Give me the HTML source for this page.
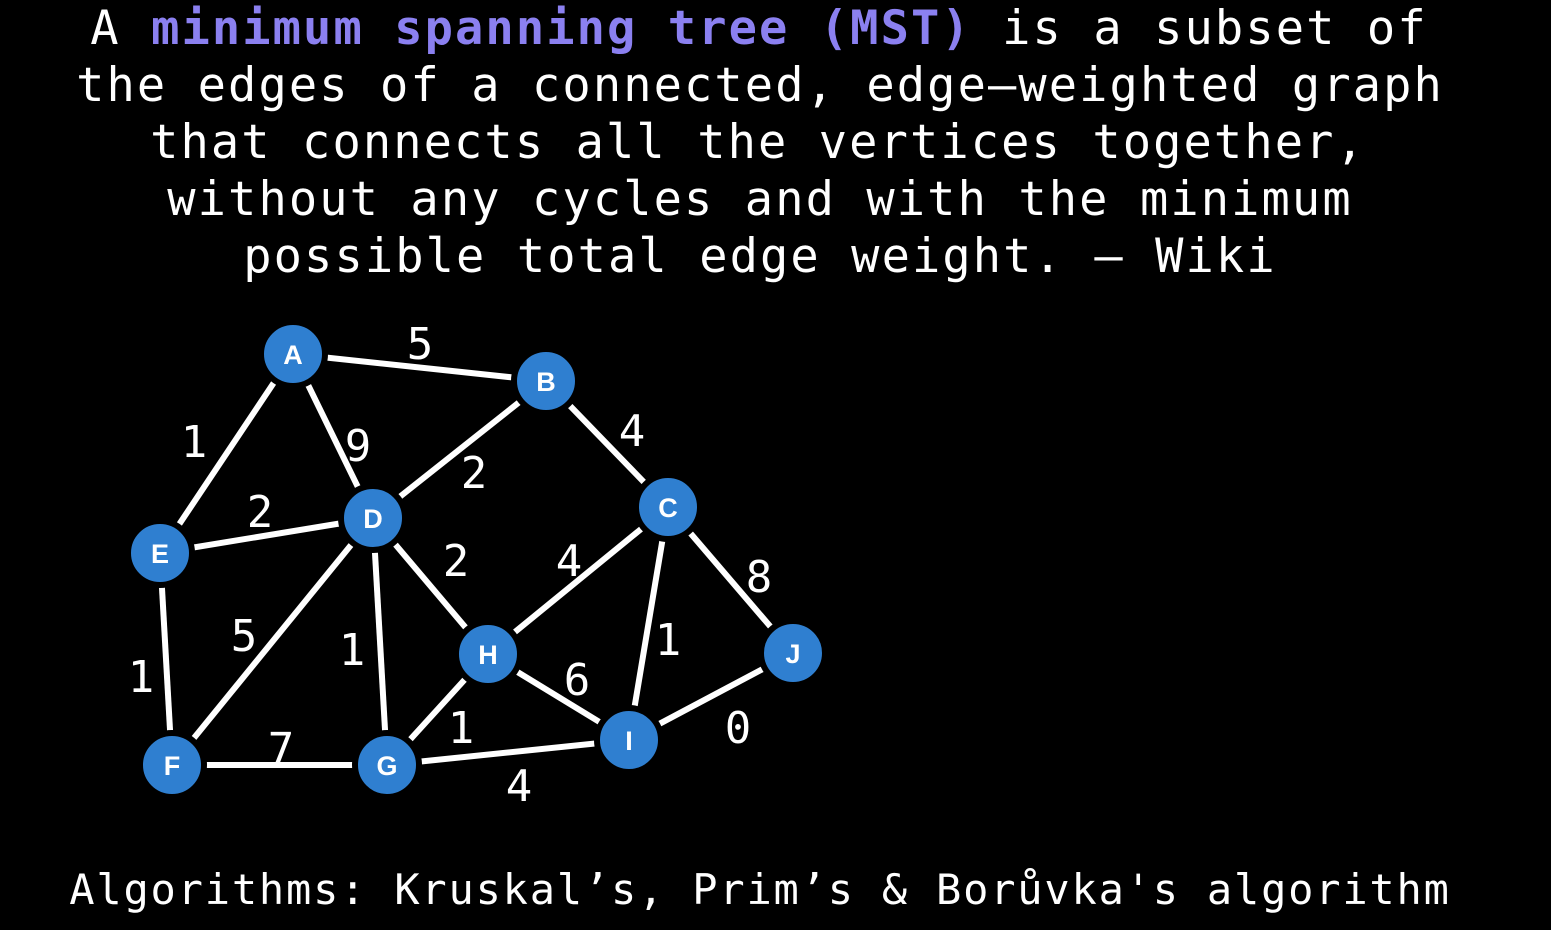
<!DOCTYPE html>
<html><head><meta charset="utf-8"><style>
html,body{margin:0;padding:0;background:#000;}
svg{display:block}
</style></head><body>
<svg width="1551" height="930" viewBox="0 0 1551 930" xmlns="http://www.w3.org/2000/svg">
<rect width="1551" height="930" fill="#000"/>
<g font-family="'DejaVu Sans Mono','Liberation Mono',monospace" font-size="47" fill="#fff" text-anchor="middle" letter-spacing="2.1">
<text x="759" y="44">A <tspan fill="#8b80f0" font-weight="bold">minimum spanning tree (MST)</tspan> is a subset of</text>
<text x="760" y="101">the edges of a connected, edge–weighted graph</text>
<text x="758" y="158">that connects all the vertices together,</text>
<text x="760" y="215">without any cycles and with the minimum</text>
<text x="760" y="272">possible total edge weight. – Wiki</text>
</g>
<text x="760" y="904" font-family="'DejaVu Sans Mono','Liberation Mono',monospace" font-size="42" fill="#fff" text-anchor="middle" letter-spacing="1.8">Algorithms: Kruskal’s, Prim’s &amp; Borůvka's algorithm</text>
<g stroke="#fff" stroke-width="6">
<line x1="293" y1="354" x2="546" y2="381"/>
<line x1="293" y1="354" x2="160" y2="553"/>
<line x1="293" y1="354" x2="373" y2="518"/>
<line x1="546" y1="381" x2="373" y2="518"/>
<line x1="546" y1="381" x2="668" y2="507"/>
<line x1="160" y1="553" x2="373" y2="518"/>
<line x1="160" y1="553" x2="172" y2="765"/>
<line x1="373" y1="518" x2="172" y2="765"/>
<line x1="373" y1="518" x2="387" y2="765"/>
<line x1="373" y1="518" x2="488" y2="654"/>
<line x1="668" y1="507" x2="488" y2="654"/>
<line x1="668" y1="507" x2="629" y2="740"/>
<line x1="668" y1="507" x2="793" y2="653"/>
<line x1="488" y1="654" x2="629" y2="740"/>
<line x1="488" y1="654" x2="387" y2="765"/>
<line x1="172" y1="765" x2="387" y2="765"/>
<line x1="387" y1="765" x2="629" y2="740"/>
<line x1="629" y1="740" x2="793" y2="653"/>
</g>
<g fill="#2f7fd0" stroke="#000" stroke-width="6">
<circle cx="293" cy="354" r="32"/><circle cx="546" cy="381" r="32"/><circle cx="668" cy="507" r="32"/>
<circle cx="373" cy="518" r="32"/><circle cx="160" cy="553" r="32"/><circle cx="172" cy="765" r="32"/>
<circle cx="387" cy="765" r="32"/><circle cx="488" cy="654" r="32"/><circle cx="629" cy="740" r="32"/>
<circle cx="793" cy="653" r="32"/>
</g>
<g font-family="'Liberation Sans',sans-serif" font-weight="bold" font-size="27" fill="#fff" text-anchor="middle">
<text x="293" y="364">A</text><text x="546" y="391">B</text><text x="668" y="517">C</text>
<text x="373" y="528">D</text><text x="160" y="563">E</text><text x="172" y="775">F</text>
<text x="387" y="775">G</text><text x="488" y="664">H</text><text x="629" y="750">I</text>
<text x="793" y="663">J</text>
</g>
<g font-family="'DejaVu Sans Mono','Liberation Mono',monospace" font-size="44" fill="#fff" text-anchor="middle">
<text x="420" y="359">5</text><text x="194" y="457">1</text><text x="358" y="461">9</text>
<text x="474" y="488">2</text><text x="632" y="446">4</text><text x="260" y="527">2</text>
<text x="456" y="576">2</text><text x="569" y="576">4</text><text x="759" y="592">8</text>
<text x="244" y="651">5</text><text x="352" y="665">1</text><text x="141" y="692">1</text>
<text x="668" y="655">1</text><text x="577" y="695">6</text><text x="461" y="743">1</text>
<text x="738" y="743">0</text><text x="281" y="764">7</text><text x="519" y="801">4</text>
</g>
</svg>
</body></html>
